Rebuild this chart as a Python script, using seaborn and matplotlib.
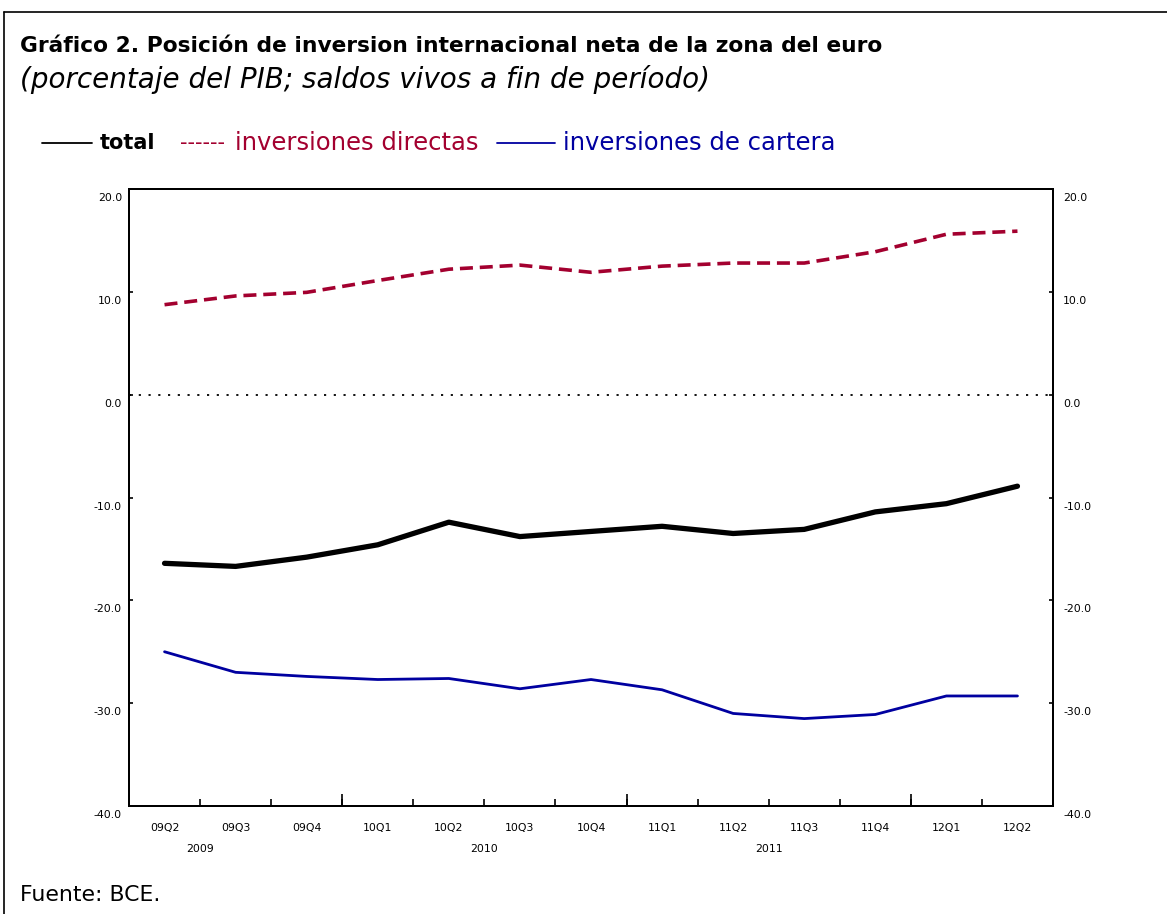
import numpy as np
import pandas as pd
import matplotlib
matplotlib.use("Agg")
import matplotlib.pyplot as plt
import seaborn as sns

# Data (% of GDP, end-of-period stocks)
quarters = ["09Q2", "09Q3", "09Q4", "10Q1", "10Q2", "10Q3", "10Q4",
            "11Q1", "11Q2", "11Q3", "11Q4", "12Q1", "12Q2"]
total = [-16.4, -16.7, -15.8, -14.6, -12.4, -13.8, -13.3,
         -12.8, -13.5, -13.1, -11.4, -10.6, -8.9]
directas = [8.75, 9.6, 9.95, 11.1, 12.2, 12.6, 11.9,
            12.5, 12.8, 12.8, 13.9, 15.6, 15.9]
cartera = [-25.0, -27.0, -27.4, -27.7, -27.6, -28.6, -27.7,
           -28.7, -31.0, -31.5, -31.1, -29.3, -29.3]
years = ["2009", "2010", "2011"]
yticks = [-40, -30, -20, -10, 0, 10, 20]

sns.set_style("white")
plt.rcParams["font.family"] = ["DejaVu Sans"]
plt.rcParams["text.color"] = "black"
plt.rcParams["xtick.color"] = "black"
plt.rcParams["ytick.color"] = "black"

df = pd.DataFrame({"pos": np.arange(len(quarters)), "quarter": quarters,
                   "total": total, "directas": directas, "cartera": cartera})

RED = "#A3002F"
BLUE = "#0000A0"

fig = plt.figure(figsize=(11.67, 9.14), dpi=100)
ax = fig.add_axes([129 / 1167, 1 - 806 / 914, 924 / 1167, 617 / 914])

ax.axhline(0, color="black", lw=1.3, ls=(0, (1.2, 4.2)), zorder=1)
sns.lineplot(data=df, x="pos", y="directas", ax=ax, color=RED, lw=2.6,
             ls=(0, (3.6, 1.9)))
sns.lineplot(data=df, x="pos", y="total", ax=ax, color="black", lw=3.8)
sns.lineplot(data=df, x="pos", y="cartera", ax=ax, color=BLUE, lw=2.0)

ax.set_xlim(-0.5, len(quarters) - 0.5)
ax.set_ylim(yticks[0], yticks[-1])
ax.set_xlabel("")
ax.set_ylabel("")

for s in ax.spines.values():
    s.set_color("black")
    s.set_linewidth(1.4)

# quarter labels at centres, boundary ticks as minor ticks
ax.set_xticks(df["pos"])
ax.set_xticklabels(quarters, fontsize=7.8)
ax.set_xticks(np.arange(len(quarters) - 1) + 0.5, minor=True)
ax.tick_params(axis="x", which="major", length=0, pad=12)
ax.tick_params(axis="x", which="minor", direction="in", length=5, width=1.2,
               color="black", bottom=True)

# year labels and year boundaries
q1_idx = []
for y in years:
    first = next(q for q in quarters if q.startswith(y[2:]))
    q1_idx.append(quarters.index(first) - (int(first[-1]) - 1))
sec = ax.secondary_xaxis("bottom")
sec.set_xticks([i + 1.5 for i in q1_idx])
sec.set_xticklabels(years, fontsize=7.8)
sec.set_xticks([quarters.index(q) - 0.5 for q in quarters if q.endswith("Q1")],
               minor=True)
sec.tick_params(axis="x", which="major", length=0, pad=27)
sec.tick_params(axis="x", which="minor", direction="in", length=9, width=1.2,
                color="black")
sec.spines["bottom"].set_linewidth(1.4)

# y ticks on both sides, labels sit a little below their tick
ax.set_yticks(yticks)
ax.set_yticklabels([])
ax.tick_params(axis="y", direction="in", length=3, width=1.2, color="black",
               left=True)
ax2 = ax.twinx()
ax2.set_ylim(ax.get_ylim())
ax2.set_yticks(yticks)
ax2.set_yticklabels([])
ax2.tick_params(axis="y", direction="in", length=3, width=1.2, color="black",
                right=True)
for s in ax2.spines.values():
    s.set_color("black")
    s.set_linewidth(1.4)
for v in yticks:
    lab = f"{v:.1f}"
    ax.annotate(lab, (0, v), xycoords=("axes fraction", "data"),
                xytext=(-7, -9), textcoords="offset pixels",
                ha="right", va="center", fontsize=7.8)
    ax.annotate(lab, (1, v), xycoords=("axes fraction", "data"),
                xytext=(10, -9), textcoords="offset pixels",
                ha="left", va="center", fontsize=7.8)

# titles
fig.text(20 / 1167, 1 - 46 / 914,
         "Gráfico 2. Posición de inversion internacional neta de la zona del euro",
         fontsize=15.7, fontweight="bold", va="center", ha="left")
fig.text(20 / 1167, 1 - 80 / 914,
         "(porcentaje del PIB; saldos vivos a fin de período)",
         fontsize=20, style="italic", va="center", ha="left")

# text legend
ly = 1 - 143 / 914
fig.add_artist(plt.Line2D([42 / 1167, 92 / 1167], [ly, ly], color="black", lw=1.3))
fig.text(100 / 1167, ly, "total", fontsize=15, fontweight="bold", va="center")
fig.text(180 / 1167, ly, "------", fontsize=15, color=RED, va="center")
fig.text(235 / 1167, ly, "inversiones directas", fontsize=17.5, color=RED, va="center")
fig.add_artist(plt.Line2D([497 / 1167, 555 / 1167], [ly, ly], color=BLUE, lw=1.3))
fig.text(563 / 1167, ly, "inversiones de cartera", fontsize=17.5, color=BLUE, va="center")

fig.text(20 / 1167, 1 - 895 / 914, "Fuente: BCE.", fontsize=15.8, va="center")

# outer frame (left and top edges)
fig.add_artist(plt.Line2D([4 / 1167, 4 / 1167], [0, 1 - 12 / 914], color="black", lw=1.2))
fig.add_artist(plt.Line2D([4 / 1167, 1], [1 - 12 / 914, 1 - 12 / 914], color="black", lw=1.2))

fig.savefig("out.png", dpi=100)
